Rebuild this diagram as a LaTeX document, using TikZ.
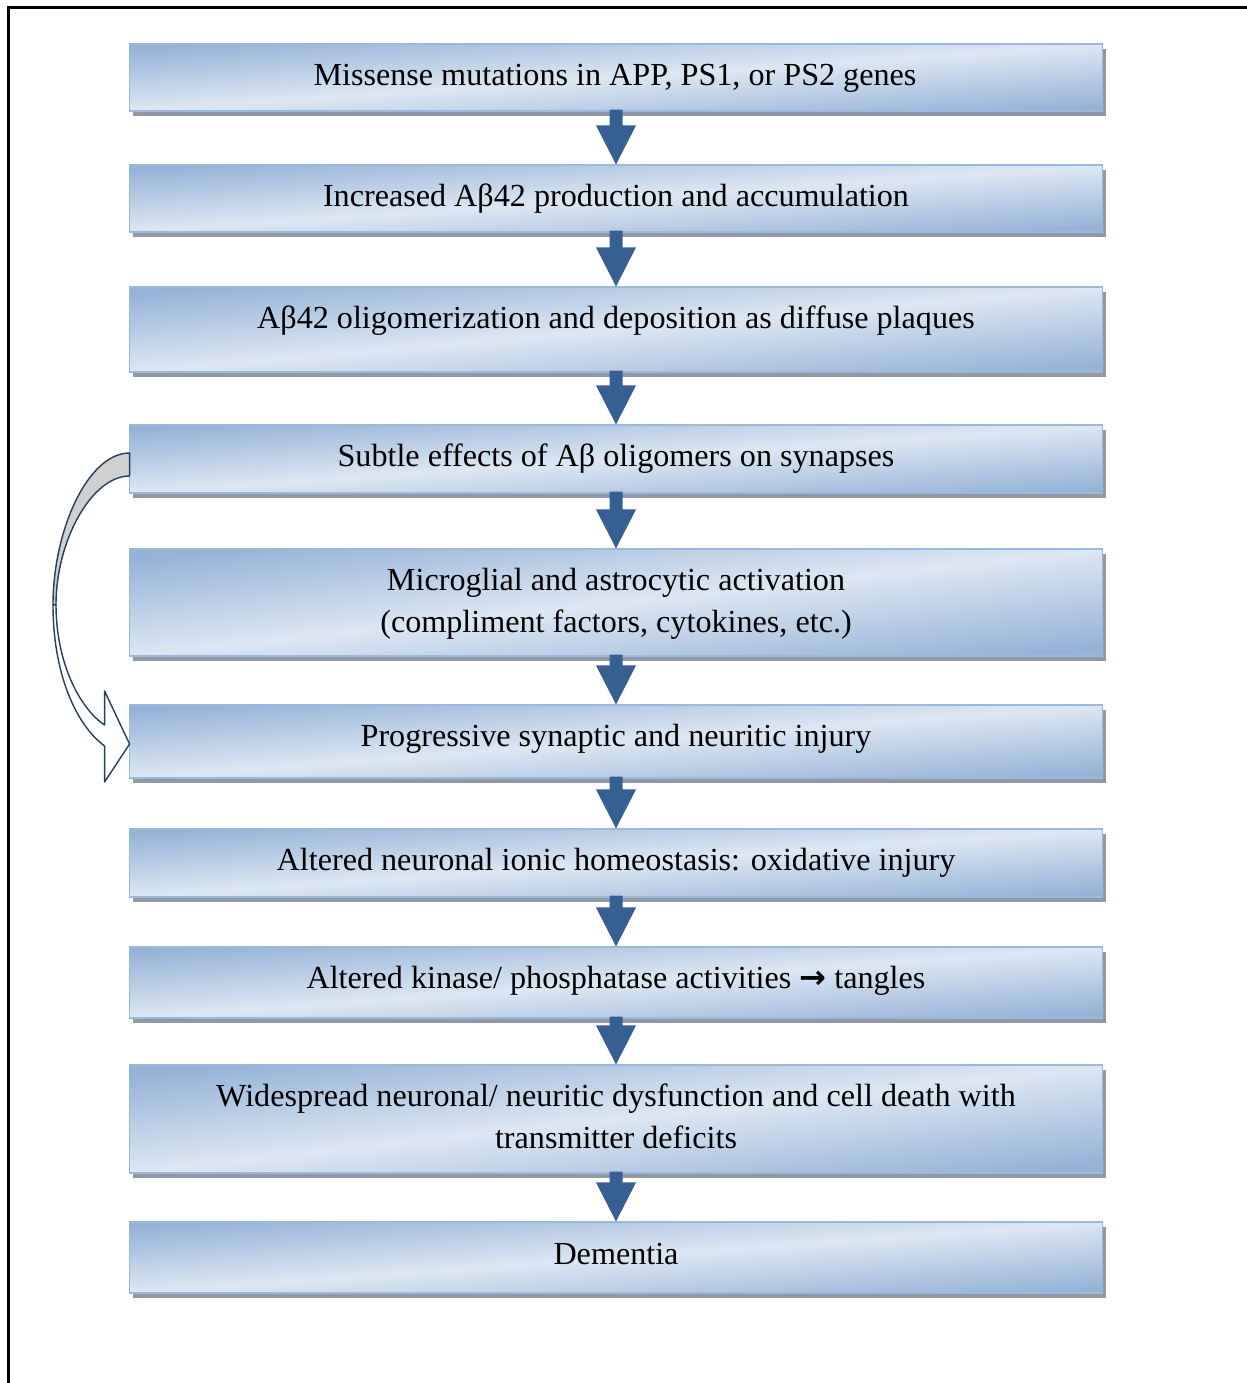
\documentclass[tikz,border=0pt]{standalone}
\usepackage{fontspec}
\setmainfont{Liberation Serif}
\newfontfamily\arrowfont{DejaVu Sans}
\usetikzlibrary{calc,shadows}
\definecolor{boxdark}{RGB}{149,179,215}
\definecolor{boxlight}{RGB}{221,231,243}
\definecolor{boxline}{RGB}{155,185,220}
\definecolor{shadowgrey}{RGB}{145,153,166}
\definecolor{arrowblue}{RGB}{55,96,146}
\definecolor{curveline}{RGB}{36,63,96}
\definecolor{backgrey}{RGB}{208,208,208}
\begin{document}
\begin{tikzpicture}[x=0.02cm,y=0.02cm,
  stepbox/.style={rectangle, minimum width=19.48cm, inner sep=0pt,
    draw=boxline, line width=0.6pt,
    top color=boxdark, bottom color=boxdark, middle color=boxlight, shading angle=#1,
    drop shadow={shadow xshift=2pt, shadow yshift=-2.6pt, fill=shadowgrey, opacity=1}},
  txt/.style={inner sep=0pt, text height=12pt, text depth=0pt,
    font=\fontsize{18.3}{22}\selectfont, anchor=center},
  flowarrow/.style={fill=arrowblue},
  curvearrow/.style={draw=curveline, line width=0.8pt, line join=round}]
\useasboundingbox (0,0) rectangle (1247,-1383);
\fill[white] (0,0) rectangle (1247,-1383);
% frame
\draw[line width=1.5pt] (8.5,-1383) -- (8.5,-7.5) -- (1247,-7.5);
% boxes
\node[stepbox=3.9, minimum height=1.34cm] (b1) at (616,-77.5) {};
\node[stepbox=3.9, minimum height=1.34cm] (b2) at (616,-198.5) {};
\node[stepbox=5.0, minimum height=1.70cm] (b3) at (616,-329.5) {};
\node[stepbox=4.0, minimum height=1.36cm] (b4) at (616,-459) {};
\node[stepbox=6.3, minimum height=2.14cm] (b5) at (616,-602.5) {};
\node[stepbox=4.3, minimum height=1.46cm] (b6) at (616,-741.5) {};
\node[stepbox=4.0, minimum height=1.36cm] (b7) at (616,-863) {};
\node[stepbox=4.2, minimum height=1.42cm] (b8) at (616,-982.5) {};
\node[stepbox=6.3, minimum height=2.16cm] (b9) at (616,-1119) {};
\node[stepbox=4.2, minimum height=1.42cm] (b10) at (616,-1257.5) {};
% texts
\node[txt] (t1) at (615,-75) {Missense mutations in APP, PS1, or PS2 genes};
\node[txt] (t2) at (616,-196) {Increased Aβ42 production and accumulation};
\node[txt] (t3) at (616,-318) {Aβ42 oligomerization and deposition as diffuse plaques};
\node[txt] (t4) at (616,-456) {Subtle effects of Aβ oligomers on synapses};
\node[txt] (t5a) at (616,-580) {Microglial and astrocytic activation};
\node[txt] (t5b) at (616,-622) {(compliment factors, cytokines, etc.)};
\node[txt] (t6) at (616,-736) {Progressive synaptic and neuritic injury};
\node[txt] (t7) at (616,-860) {Altered neuronal ionic homeostasis: oxidative injury};
\node[txt] (t8) at (616,-978) {Altered kinase/ phosphatase activities {\arrowfont\bfseries →} tangles};
\node[txt] (t9a) at (616,-1096) {Widespread neuronal/ neuritic dysfunction and cell death with};
\node[txt] (t9b) at (616,-1138) {transmitter deficits};
\node[txt] (t10) at (616,-1254) {Dementia};
% block arrows
\foreach \a/\b in {b1/b2,b2/b3,b3/b4,b4/b5,b5/b6,b6/b7,b7/b8,b8/b9,b9/b10}
  \fill[flowarrow] ($(\a.south)+(-6.5,2)$) -- ($(\b.north)+(-6.5,39)$)
    -- ($(\b.north)+(-20,39)$) -- (\b.north) -- ($(\b.north)+(20,39)$)
    -- ($(\b.north)+(6.5,39)$) -- ($(\a.south)+(6.5,2)$) -- cycle;
% curved arrow from b4 to b6
\coordinate (cs) at (b4.west);
\coordinate (ctip) at ($(b6.west)+(1,-2.5)$);
\filldraw[curvearrow, fill=backgrey]
  ($(cs)+(1,6)$) .. controls (88,-453) and (53,-530) .. (53,-605)
  -- (56,-605) .. controls (56,-540) and (92,-476) .. ($(cs)+(1,-17)$) -- cycle;
\filldraw[curvearrow, fill=white]
  (53,-605) .. controls (53,-672) and (75,-724) .. ($(ctip)+(-25,-2)$)
  -- ($(ctip)+(-25,-38)$) -- (ctip) -- ($(ctip)+(-25,53)$)
  -- ($(ctip)+(-25,19)$) .. controls (78,-707) and (56,-660) .. (56,-605) -- cycle;
\end{tikzpicture}
\end{document}
